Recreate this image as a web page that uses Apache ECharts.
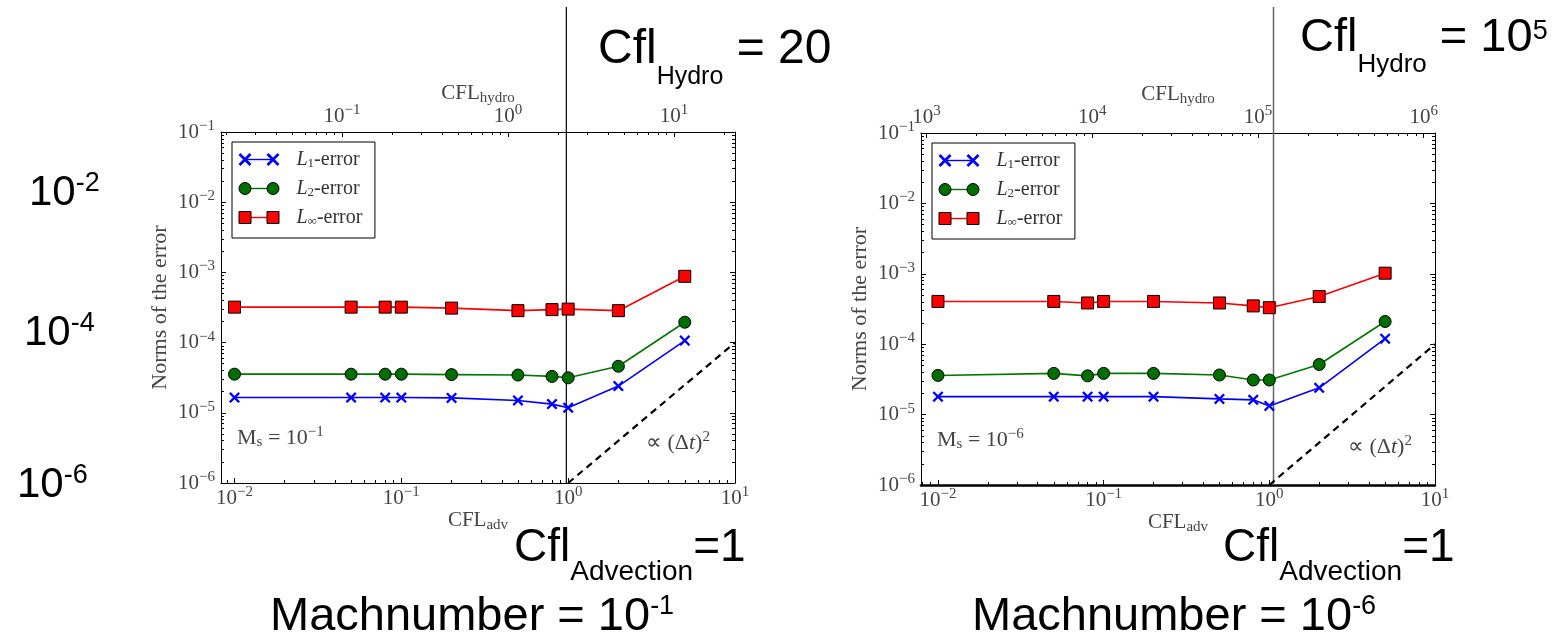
<!DOCTYPE html>
<html>
<head>
<meta charset="utf-8">
<script src="https://cdn.jsdelivr.net/npm/echarts@6.0.0/dist/echarts.min.js"></script>
<style>html,body{margin:0;padding:0;background:#fff}#c{width:1560px;height:638px}</style>
</head>
<body>
<div id="c"></div>
<script>
// ---------------- data ----------------
const cflAdv = [0.01, 0.05, 0.08, 0.1, 0.2, 0.5, 0.8, 1.0, 2, 5];
const leftL1   = [1.65e-5, 1.65e-5, 1.65e-5, 1.65e-5, 1.63e-5, 1.5e-5, 1.33e-5, 1.18e-5, 2.4e-5, 1.07e-4];
const leftL2   = [3.55e-5, 3.55e-5, 3.55e-5, 3.55e-5, 3.5e-5, 3.45e-5, 3.3e-5, 3.15e-5, 4.6e-5, 1.95e-4];
const leftLinf = [3.2e-4, 3.2e-4, 3.2e-4, 3.2e-4, 3.1e-4, 2.85e-4, 2.95e-4, 3.0e-4, 2.85e-4, 8.8e-4];
const rightL1   = [1.8e-5, 1.8e-5, 1.8e-5, 1.8e-5, 1.8e-5, 1.67e-5, 1.62e-5, 1.33e-5, 2.4e-5, 1.2e-4];
const rightL2   = [3.6e-5, 3.85e-5, 3.55e-5, 3.85e-5, 3.85e-5, 3.65e-5, 3.1e-5, 3.1e-5, 5.15e-5, 2.1e-4];
const rightLinf = [4.05e-4, 4.05e-4, 3.85e-4, 4.05e-4, 4.05e-4, 3.85e-4, 3.5e-4, 3.3e-4, 4.75e-4, 1.02e-3];
const slopeX = [1, 10];
const slopeY = [1e-6, 1e-4];
const seriesNames = ['L1-error', 'L2-error', 'L\u221e-error'];
const advTicks = [0.01, 0.1, 1, 10];
const errTicks = [1e-6, 1e-5, 1e-4, 1e-3, 1e-2, 1e-1];
const hydroTicksLeft = [0.1, 1, 10];
const hydroTicksRight = [1e3, 1e4, 1e5, 1e6];
const advRangeLeft = [0.0083, 10];
const advRangeRight = [0.0079, 10];
const hydroRangeLeft = [0.0187, 23.3];
const hydroRangeRight = [925, 1.17e6];
const errRange = [1e-6, 1e-1];
const cflLine = [0.975, 1.06];

// ---------------- helpers ----------------
function minorTicks(lo, hi) {
  const out = [];
  for (let e = lo; e < hi; e++) for (let m = 2; m <= 9; m++) out.push(+(m * Math.pow(10, e)).toPrecision(6));
  return out;
}
const serif = 'Liberation Serif';
const sans = 'Liberation Sans';
const labelColor = '#444';
// shifted token: dy > 0 moves down (subscript), dy < 0 moves up (superscript)
function tok(family, size, lh, color, dy, extra) {
  const t = {fontFamily: family, fontSize: size, lineHeight: lh, verticalAlign: 'middle', color: color, fill: color,
    padding: dy >= 0 ? [2 * dy, 0, 0, 0] : [0, 0, -2 * dy, 0]};
  return Object.assign(t, extra || {});
}
const tickRich = {
  b: tok(serif, 21, 22, labelColor, 0),
  s: tok(serif, 15, 22, labelColor, -6)
};
const nameRich = {
  m: tok(serif, 21, 22, labelColor, 0),
  sub: tok(serif, 15, 22, labelColor, 5)
};
function powLabel(v) {
  const e = Math.round(Math.log10(v));
  return '{b|10}{s|' + (e < 0 ? '\u2212' + (-e) : String(e)) + '}';
}
function xAxes(gi, adv, hydro, hydroTicks, hydroMinor, bottomWidth) {
  const base = {type: 'log', logBase: 10, gridIndex: gi, splitLine: {show: false}, minorTick: {show: false}};
  const tickStyle = {color: '#000', width: 1};
  return [
    Object.assign({}, base, {position: 'bottom', min: adv[0], max: adv[1],
      axisLine: {show: true, onZero: false, lineStyle: {color: '#000', width: bottomWidth}},
      axisTick: {show: true, inside: true, length: 5, customValues: advTicks, lineStyle: tickStyle},
      axisLabel: {show: true, customValues: advTicks, formatter: powLabel, rich: tickRich, margin: 4},
      name: '{m|CFL}{sub|adv}', nameLocation: 'middle', nameGap: 26, nameMoveOverlap: false,
      nameTextStyle: {rich: nameRich}}),
    Object.assign({}, base, {position: 'bottom', min: adv[0], max: adv[1],
      axisLine: {show: false, onZero: false},
      axisTick: {show: true, inside: true, length: 3, customValues: minorTicks(-3, 1), lineStyle: tickStyle},
      axisLabel: {show: false}}),
    Object.assign({}, base, {position: 'top', min: hydro[0], max: hydro[1],
      axisLine: {show: true, onZero: false, lineStyle: {color: '#000', width: 1}},
      axisTick: {show: true, inside: true, length: 5, customValues: hydroTicks, lineStyle: tickStyle},
      axisLabel: {show: true, customValues: hydroTicks, formatter: powLabel, rich: tickRich, margin: 5},
      name: '{m|CFL}{sub|hydro}', nameLocation: 'middle', nameGap: 28, nameMoveOverlap: false,
      nameTextStyle: {rich: nameRich}}),
    Object.assign({}, base, {position: 'top', min: hydro[0], max: hydro[1],
      axisLine: {show: false, onZero: false},
      axisTick: {show: true, inside: true, length: 3, customValues: hydroMinor, lineStyle: tickStyle},
      axisLabel: {show: false}})
  ];
}
function yAxes(gi) {
  const base = {type: 'log', logBase: 10, gridIndex: gi, min: errRange[0], max: errRange[1], splitLine: {show: false}, minorTick: {show: false}};
  const tickStyle = {color: '#000', width: 1};
  const minor = minorTicks(-6, -1);
  return [
    Object.assign({}, base, {position: 'left',
      axisLine: {show: true, onZero: false, lineStyle: {color: '#000', width: 1}},
      axisTick: {show: true, inside: true, length: 5, customValues: errTicks, lineStyle: tickStyle},
      axisLabel: {show: true, customValues: errTicks, formatter: powLabel, rich: tickRich, margin: 6},
      name: 'Norms of the error', nameLocation: 'middle', nameRotate: 90, nameGap: 50, nameMoveOverlap: false,
      nameTextStyle: {fontFamily: serif, fontSize: 22, color: labelColor}}),
    Object.assign({}, base, {position: 'left', axisLine: {show: false, onZero: false},
      axisTick: {show: true, inside: true, length: 3, customValues: minor, lineStyle: tickStyle}, axisLabel: {show: false}}),
    Object.assign({}, base, {position: 'right',
      axisLine: {show: true, onZero: false, lineStyle: {color: '#000', width: 1}},
      axisTick: {show: true, inside: true, length: 5, customValues: errTicks, lineStyle: tickStyle}, axisLabel: {show: false}}),
    Object.assign({}, base, {position: 'right', axisLine: {show: false, onZero: false},
      axisTick: {show: true, inside: true, length: 3, customValues: minor, lineStyle: tickStyle}, axisLabel: {show: false}})
  ];
}
const xPath = 'path://M0,1.5L1.5,0L5,3.5L8.5,0L10,1.5L6.5,5L10,8.5L8.5,10L5,6.5L1.5,10L0,8.5L3.5,5Z';
function errSeries(xi, yi, l1, l2, linf) {
  const pts = arr => cflAdv.map((x, i) => [x, arr[i]]);
  return [
    {name: seriesNames[0], type: 'line', xAxisIndex: xi, yAxisIndex: yi, data: pts(l1), symbol: xPath, symbolSize: 11,
      itemStyle: {color: '#0000ff'}, lineStyle: {color: '#0000ff', width: 1.6}, z: 3},
    {name: seriesNames[1], type: 'line', xAxisIndex: xi, yAxisIndex: yi, data: pts(l2), symbol: 'circle', symbolSize: 12,
      itemStyle: {color: '#006e00', borderColor: '#000', borderWidth: 1}, lineStyle: {color: '#007800', width: 1.6}, z: 4},
    {name: seriesNames[2], type: 'line', xAxisIndex: xi, yAxisIndex: yi, data: pts(linf), symbol: 'rect', symbolSize: 12,
      itemStyle: {color: '#ff0000', borderColor: '#000', borderWidth: 1}, lineStyle: {color: '#ff0000', width: 1.6}, z: 5},
    {name: 'slope', type: 'line', xAxisIndex: xi, yAxisIndex: yi, data: slopeX.map((x, i) => [x, slopeY[i]]), symbol: 'none',
      lineStyle: {color: '#000', width: 2.2, type: [7, 5]}, silent: true, z: 2}
  ];
}
// legend icons (53 x 13 box; markers at 0-13 and 28-41)
const corners = 'M0,0L0,0M53,13L53,13';
const barPath = 'path://' + corners + 'M6.5,5.8L34.5,5.8L34.5,7.2L6.5,7.2Z';
function xAt(o) {
  const p = [[0,1.95],[1.95,0],[6.5,4.55],[11.05,0],[13,1.95],[8.45,6.5],[13,11.05],[11.05,13],[6.5,8.45],[1.95,13],[0,11.05],[4.55,6.5]];
  return 'M' + p.map(q => (q[0] + o) + ',' + q[1]).join('L') + 'Z';
}
const markerPaths = [
  'path://' + corners + xAt(0) + xAt(28),
  'path://' + corners + 'M0.5,6.5A6,6 0 1 1 12.5,6.5A6,6 0 1 1 0.5,6.5Z' + 'M28.5,6.5A6,6 0 1 1 40.5,6.5A6,6 0 1 1 28.5,6.5Z',
  'path://' + corners + 'M0.5,0.5L12.5,0.5L12.5,12.5L0.5,12.5Z' + 'M28.5,0.5L40.5,0.5L40.5,12.5L28.5,12.5Z'
];
function legendFmt(name) {
  const sub = name.slice(1, name.indexOf('-'));
  return '{i|L}{sub|' + sub + '}{t|-error}';
}
function legendRich(color) {
  return {
    i: tok(serif, 20, 14, color, 0, {fontStyle: 'italic'}),
    sub: tok(serif, 13, 14, color, 4),
    t: tok(serif, 20, 14, color, 0)
  };
}
function legends(left, top) {
  const common = {orient: 'vertical', left, top, itemWidth: 53, itemHeight: 13, itemGap: 8,
    padding: [7, 13, 10, 6], selectedMode: false, formatter: legendFmt};
  return [
    Object.assign({}, common, {z: 4, backgroundColor: '#fff', borderColor: '#000', borderWidth: 1, borderRadius: 0,
      textStyle: {lineHeight: 14, rich: legendRich('rgba(0,0,0,0)')},
      data: seriesNames.map(n => ({name: n, icon: barPath, itemStyle: {borderWidth: 0}}))}),
    Object.assign({}, common, {z: 5,
      textStyle: {lineHeight: 14, rich: legendRich('#333')},
      data: seriesNames.map((n, i) => ({name: n, icon: markerPaths[i],
        itemStyle: i === 0 ? {borderWidth: 0} : {borderColor: '#000', borderWidth: 1}}))})
  ];
}

const chart = echarts.init(document.getElementById('c'), null, {renderer: 'canvas'});
chart.setOption({
  animation: false,
  backgroundColor: '#fff',
  grid: [
    {left: 221, top: 132, width: 514, height: 351, containLabel: false},
    {left: 921, top: 133, width: 514, height: 352, containLabel: false}
  ],
  xAxis: xAxes(0, advRangeLeft, hydroRangeLeft, hydroTicksLeft, minorTicks(-2, 2), 1)
    .concat(xAxes(1, advRangeRight, hydroRangeRight, hydroTicksRight, minorTicks(2, 7), 2.5)),
  yAxis: yAxes(0).concat(yAxes(1)),
  legend: legends(232, 142).concat(legends(932, 143)),
  series: errSeries(0, 0, leftL1, leftL2, leftLinf).concat(errSeries(4, 4, rightL1, rightL2, rightLinf))
});

// ---------------- annotations ----------------
function bigRich(main, sub, subDy, sup, supDy) {
  return {
    m: tok(sans, main, 60, '#000', 0),
    sub: tok(sans, sub, 60, '#000', subDy),
    sup: tok(sans, sup, 60, '#000', supDy)
  };
}
function txt(x, y, text, rich) {
  return {type: 'text', x, y, z: 20, style: {text, rich, align: 'left', verticalAlign: 'middle'}};
}
const inRich = {
  r: tok(serif, 22, 22, labelColor, 0),
  i: tok(serif, 22, 22, labelColor, 0, {fontStyle: 'italic'}),
  sub: tok(serif, 15, 22, labelColor, 4),
  sup: tok(serif, 15, 22, labelColor, -6)
};
const xl = chart.convertToPixel({xAxisIndex: 0}, cflLine[0]);
const xr = chart.convertToPixel({xAxisIndex: 4}, cflLine[1]);
const ybl = chart.convertToPixel({yAxisIndex: 0}, errRange[0]);
const ybr = chart.convertToPixel({yAxisIndex: 4}, errRange[0]);
chart.setOption({
  graphic: [
    {type: 'line', z: 1, shape: {x1: xl, y1: 7, x2: xl, y2: ybl}, style: {stroke: '#000', lineWidth: 1.2}},
    {type: 'line', z: 1, shape: {x1: xr, y1: 7, x2: xr, y2: ybr}, style: {stroke: '#666', lineWidth: 1.5}},
    txt(598, 50, '{m|Cfl}{sub|Hydro}{m| = 20}', bigRich(48, 25, 27, 27, -6)),
    txt(1300, 38.5, '{m|Cfl}{sub|Hydro}{m| = 10}{sup|5}', bigRich(47, 26, 26, 27, -6.5)),
    txt(29, 193.5, '{m|10}{sup|-2}', bigRich(42, 26, 10, 27, -9.5)),
    txt(24, 333.5, '{m|10}{sup|-4}', bigRich(42, 26, 10, 27, -9.5)),
    txt(17, 485, '{m|10}{sup|-6}', bigRich(42, 26, 10, 27, -9.5)),
    txt(514, 548, '{m|Cfl}{sub|Advection}{m|=1}', bigRich(46, 28, 24, 27, -9)),
    txt(1223, 548, '{m|Cfl}{sub|Advection}{m|=1}', bigRich(46, 28, 24, 27, -9)),
    txt(270, 617.5, '{m|Machnumber = 10}{sup|-1}', bigRich(47, 26, 10, 27, -10.5)),
    txt(972, 617.5, '{m|Machnumber = 10}{sup|-6}', bigRich(47, 26, 10, 27, -10.5)),
    txt(237, 438, '{r|M}{sub|s}{r| = 10}{sup|\u22121}', inRich),
    txt(937, 440, '{r|M}{sub|s}{r| = 10}{sup|\u22126}', inRich),
    txt(646, 443, '{r|\u221d (\u0394}{i|t}{r|)}{sup|2}', inRich),
    txt(1348, 447, '{r|\u221d (\u0394}{i|t}{r|)}{sup|2}', inRich)
  ]
});
</script>
</body>
</html>
